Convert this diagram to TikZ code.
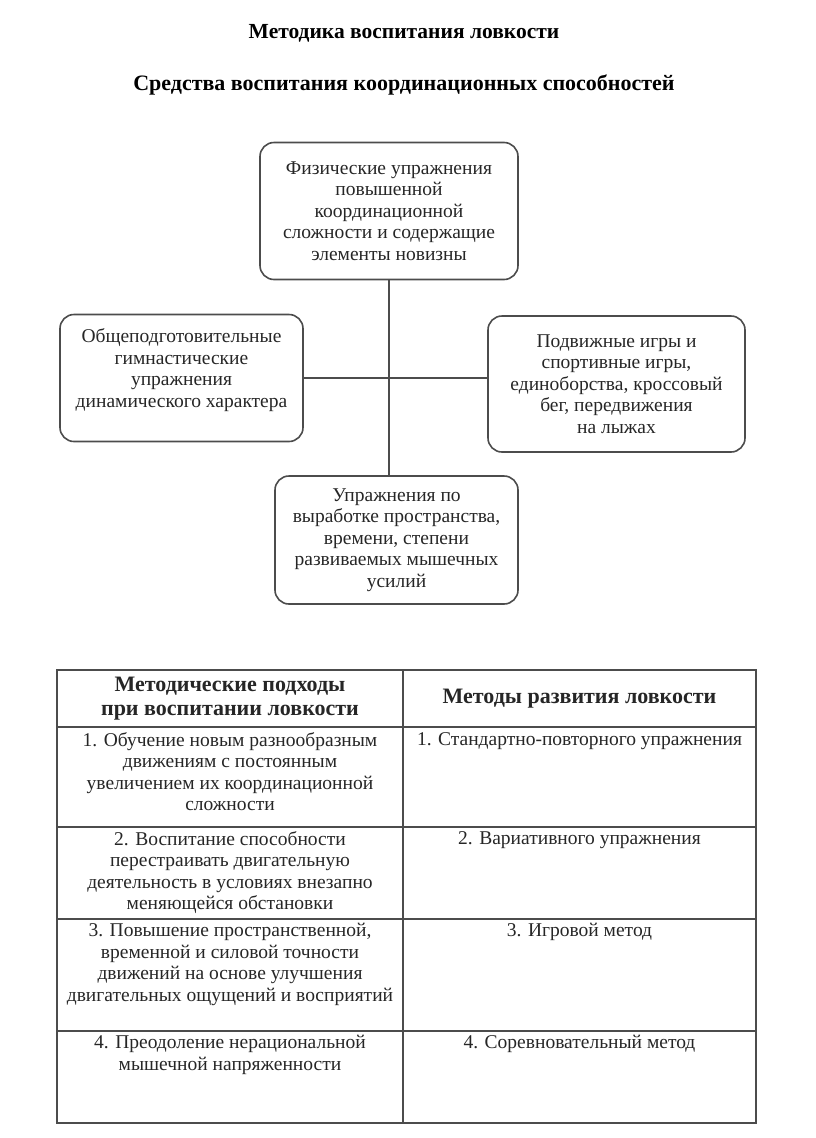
\documentclass[tikz,border=0pt]{standalone}
\usepackage{fontspec}
\setmainfont{Liberation Serif}
\usetikzlibrary{positioning}

\begin{document}
\begin{tikzpicture}[x=1pt,y=-1pt,
  box/.style={draw=black!70, line width=1.6pt, rounded corners=14pt, align=center,
    inner sep=0pt, text=black!85, font=\fontsize{19.5}{21.5}\selectfont},
  cell/.style={anchor=north, align=center, inner sep=1pt, text=black!85,
    font=\fontsize{19.5}{21.5}\selectfont},
  ln/.style={draw=black!70, line width=1.6pt}]
\useasboundingbox (0,0) rectangle (816,1138);

\node (t1) at (404,33) {\fontsize{21.5}{24}\selectfont\bfseries Методика воспитания ловкости};
\node (t2) at (404,85) {\fontsize{22}{24}\selectfont\bfseries Средства воспитания координационных способностей};

% scheme
\node[box, minimum width=258pt, minimum height=137pt] (fiz) at (389,211)
  {Физические упражнения\\повышенной\\координационной\\сложности и содержащие\\элементы новизны};
\node[box, minimum width=243pt, minimum height=127pt] (obsh) at (181.5,378)
  {Общеподготовительные\\гимнастические\\упражнения\\динамического характера\\[-1.5pt]};
\node[box, minimum width=257pt, minimum height=136pt] (podv) at (616.5,384)
  {Подвижные игры и\\спортивные игры,\\единоборства, кроссовый\\бег, передвижения\\на лыжах};
\node[box, minimum width=243pt, minimum height=128pt] (upr) at (396.5,540)
  {Упражнения по\\выработке пространства,\\времени, степени\\развиваемых мышечных\\усилий};

\path[ln] (fiz.south) -- (fiz.south |- upr.north)
          (obsh.east) -- (obsh.east -| podv.west);

% table
\draw[ln] (57,670) rectangle (756,1123);
\draw[ln] (403,670) -- (403,1123);
\foreach \y in {727,827,919,1031}
  \draw[ln] (57,\y) -- (756,\y);

\node[cell, anchor=center, font=\fontsize{22}{24}\selectfont\bfseries] (h1) at (230,698.5)
  {Методические подходы\\при воспитании ловкости};
\node[cell, anchor=center, font=\fontsize{22}{24}\selectfont\bfseries] (h2) at (579.5,698.5)
  {Методы развития ловкости};

\node[cell] (a1) at (230,731) {1. Обучение новым разнообразным\\движениям с постоянным\\увеличением их координационной\\сложности};
\node[cell] (a2) at (230,830) {2. Воспитание способности\\перестраивать двигательную\\деятельность в условиях внезапно\\меняющейся обстановки};
\node[cell] (a3) at (230,922) {3. Повышение пространственной,\\временной и силовой точности\\движений на основе улучшения\\двигательных ощущений и восприятий};
\node[cell] (a4) at (230,1034) {4. Преодоление нерациональной\\мышечной напряженности};

\node[cell] (m1) at (579.5,731) {1. Стандартно-повторного упражнения};
\node[cell] (m2) at (579.5,830) {2. Вариативного упражнения};
\node[cell] (m3) at (579.5,922) {3. Игровой метод};
\node[cell] (m4) at (579.5,1034) {4. Соревновательный метод};
\end{tikzpicture}
\end{document}
